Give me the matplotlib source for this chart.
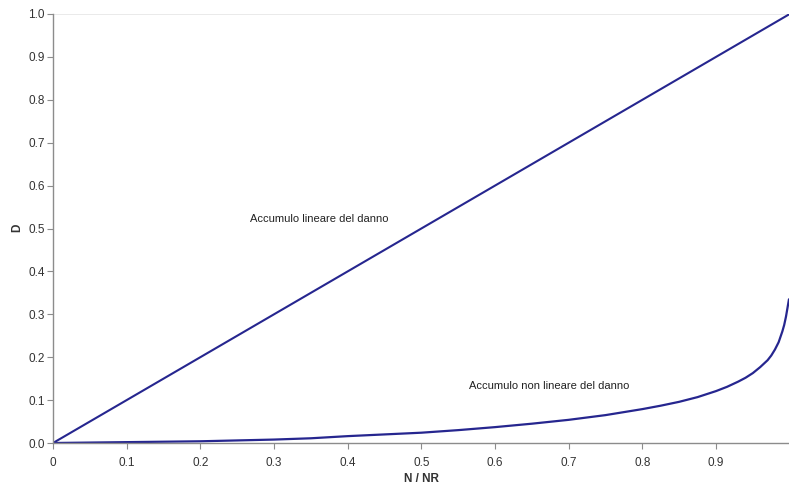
import matplotlib
matplotlib.use("Agg")
import matplotlib.pyplot as plt

# Danno cumulato D in funzione del rapporto di cicli N / NR
n_ratio_lin = [0.0, 1.0]
damage_lin = [0.0, 1.0]

n_ratio = [0.0, 0.05, 0.1, 0.15, 0.2, 0.25, 0.3, 0.35, 0.4, 0.45, 0.5, 0.55,
           0.6, 0.65, 0.7, 0.75, 0.8, 0.825, 0.85, 0.875, 0.9, 0.915, 0.93,
           0.94, 0.95, 0.96, 0.97, 0.975, 0.98, 0.985, 0.99, 0.9925, 0.995,
           0.997, 0.999]
damage = [0.0, 0.001, 0.002, 0.003, 0.004, 0.006, 0.008, 0.011, 0.016,
          0.020, 0.024, 0.030, 0.037, 0.045, 0.054, 0.065, 0.079, 0.087,
          0.096, 0.107, 0.121, 0.131, 0.143, 0.152, 0.163, 0.177, 0.193,
          0.204, 0.218, 0.235, 0.26, 0.275, 0.295, 0.315, 0.335]

x_ticks = [0.0, 0.1, 0.2, 0.3, 0.4, 0.5, 0.6, 0.7, 0.8, 0.9]
x_tick_labels = ["0", "0.1", "0.2", "0.3", "0.4", "0.5", "0.6", "0.7", "0.8", "0.9"]
y_ticks = [0.0, 0.1, 0.2, 0.3, 0.4, 0.5, 0.6, 0.7, 0.8, 0.9, 1.0]

plt.rcParams['font.family'] = ['Liberation Sans', 'DejaVu Sans']

LINE = '#26268f'
AXIS = '#8c8c8c'
TEXT = '#333333'

fig = plt.figure(figsize=(7.89, 4.87), dpi=100)
ax = fig.add_axes((53 / 789, 44 / 487, 736.7 / 789, 429 / 487))

ax.plot(n_ratio_lin, damage_lin, color=LINE, lw=1.5, solid_capstyle='round')
ax.plot(n_ratio, damage, color=LINE, lw=1.6, solid_capstyle='round',
        solid_joinstyle='round')

ax.set_xlim(0, 1)
ax.set_ylim(0, 1)
ax.set_xticks(x_ticks)
ax.set_xticklabels(x_tick_labels)
ax.set_yticks(y_ticks)
ax.set_yticklabels(["%.1f" % v for v in y_ticks])

ax.axhline(1.0, color='#e6e6e6', lw=1.2, zorder=0)

for side in ('top', 'right'):
    ax.spines[side].set_visible(False)
for side in ('left', 'bottom'):
    ax.spines[side].set_color(AXIS)
    ax.spines[side].set_linewidth(1.0)

ax.tick_params(direction='out', length=4, width=0.8, color=AXIS,
               labelsize=8.5, labelcolor=TEXT)
ax.tick_params(axis='x', pad=6)
ax.tick_params(axis='y', pad=2)

ax.set_xlabel("N / NR", fontsize=8.5, fontweight='bold', color=TEXT, labelpad=3)
# etichetta asse y posizionata a mano, vicino al bordo sinistro
fig.text(17 / 789, 1 - 228 / 487, "D", fontsize=8.5, fontweight='bold',
         color=TEXT, rotation=90, ha='center', va='center')

ax.text(0.267, 0.522, "Accumulo lineare del danno", fontsize=8,
        color='#222222', va='center', ha='left')
ax.text(0.565, 0.133, "Accumulo non lineare del danno", fontsize=8,
        color='#222222', va='center', ha='left')

fig.savefig("out.png", dpi=100)
